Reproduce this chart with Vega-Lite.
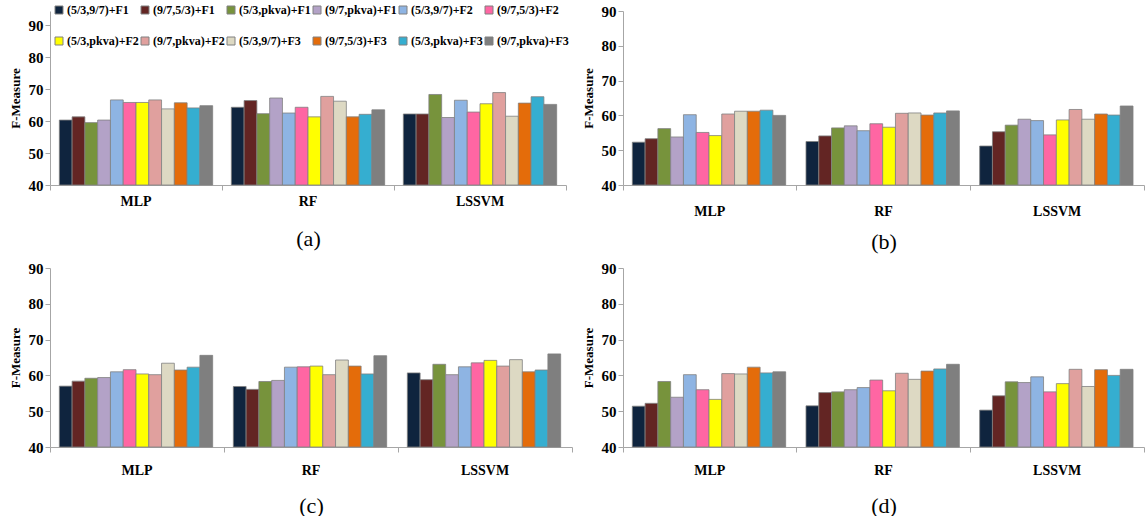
{
  "$schema": "https://vega.github.io/schema/vega-lite/v6.json",
  "padding": {"left": 9, "top": 4, "right": 0, "bottom": 0},
  "background": "white",
  "config": {
    "font": "Liberation Serif, Times New Roman, serif",
    "view": {"stroke": null},
    "axis": {"domainColor": "#a6a6a6", "tickColor": "#a6a6a6", "labelFont": "Liberation Serif, Times New Roman, serif", "titleFont": "Liberation Serif, Times New Roman, serif", "labelFontWeight": "bold", "labelColor": "#000000", "titleColor": "#000000", "grid": false, "tickSize": 5},
    "legend": {"orient": "none", "legendX": 3, "legendY": -7, "direction": "horizontal", "columns": 6, "symbolType": "square", "symbolSize": 64, "symbolStrokeWidth": 1, "symbolStrokeColor": "#808080", "labelFont": "Liberation Serif, Times New Roman, serif", "labelFontWeight": "bold", "labelFontSize": 12, "labelColor": "#000000", "rowPadding": 19, "columnPadding": 0, "labelOffset": 2}
  },
  "data": {"values": [
    {"panel": "a", "model": "MLP", "series": "(5/3,9/7)+F1", "value": 60.3},
    {"panel": "a", "model": "MLP", "series": "(9/7,5/3)+F1", "value": 61.3},
    {"panel": "a", "model": "MLP", "series": "(5/3,pkva)+F1", "value": 59.5},
    {"panel": "a", "model": "MLP", "series": "(9/7,pkva)+F1", "value": 60.3},
    {"panel": "a", "model": "MLP", "series": "(5/3,9/7)+F2", "value": 66.6},
    {"panel": "a", "model": "MLP", "series": "(9/7,5/3)+F2", "value": 65.8},
    {"panel": "a", "model": "MLP", "series": "(5/3,pkva)+F2", "value": 65.8},
    {"panel": "a", "model": "MLP", "series": "(9/7,pkva)+F2", "value": 66.6},
    {"panel": "a", "model": "MLP", "series": "(5/3,9/7)+F3", "value": 63.8},
    {"panel": "a", "model": "MLP", "series": "(9/7,5/3)+F3", "value": 65.7},
    {"panel": "a", "model": "MLP", "series": "(5/3,pkva)+F3", "value": 64.1},
    {"panel": "a", "model": "MLP", "series": "(9/7,pkva)+F3", "value": 64.8},
    {"panel": "a", "model": "RF", "series": "(5/3,9/7)+F1", "value": 64.3},
    {"panel": "a", "model": "RF", "series": "(9/7,5/3)+F1", "value": 66.4},
    {"panel": "a", "model": "RF", "series": "(5/3,pkva)+F1", "value": 62.3},
    {"panel": "a", "model": "RF", "series": "(9/7,pkva)+F1", "value": 67.2},
    {"panel": "a", "model": "RF", "series": "(5/3,9/7)+F2", "value": 62.5},
    {"panel": "a", "model": "RF", "series": "(9/7,5/3)+F2", "value": 64.3},
    {"panel": "a", "model": "RF", "series": "(5/3,pkva)+F2", "value": 61.3},
    {"panel": "a", "model": "RF", "series": "(9/7,pkva)+F2", "value": 67.7},
    {"panel": "a", "model": "RF", "series": "(5/3,9/7)+F3", "value": 66.2},
    {"panel": "a", "model": "RF", "series": "(9/7,5/3)+F3", "value": 61.3},
    {"panel": "a", "model": "RF", "series": "(5/3,pkva)+F3", "value": 62.1},
    {"panel": "a", "model": "RF", "series": "(9/7,pkva)+F3", "value": 63.5},
    {"panel": "a", "model": "LSSVM", "series": "(5/3,9/7)+F1", "value": 62.2},
    {"panel": "a", "model": "LSSVM", "series": "(9/7,5/3)+F1", "value": 62.2},
    {"panel": "a", "model": "LSSVM", "series": "(5/3,pkva)+F1", "value": 68.3},
    {"panel": "a", "model": "LSSVM", "series": "(9/7,pkva)+F1", "value": 61.1},
    {"panel": "a", "model": "LSSVM", "series": "(5/3,9/7)+F2", "value": 66.5},
    {"panel": "a", "model": "LSSVM", "series": "(9/7,5/3)+F2", "value": 62.8},
    {"panel": "a", "model": "LSSVM", "series": "(5/3,pkva)+F2", "value": 65.4},
    {"panel": "a", "model": "LSSVM", "series": "(9/7,pkva)+F2", "value": 68.9},
    {"panel": "a", "model": "LSSVM", "series": "(5/3,9/7)+F3", "value": 61.5},
    {"panel": "a", "model": "LSSVM", "series": "(9/7,5/3)+F3", "value": 65.6},
    {"panel": "a", "model": "LSSVM", "series": "(5/3,pkva)+F3", "value": 67.6},
    {"panel": "a", "model": "LSSVM", "series": "(9/7,pkva)+F3", "value": 65.2},
    {"panel": "b", "model": "MLP", "series": "(5/3,9/7)+F1", "value": 52.3},
    {"panel": "b", "model": "MLP", "series": "(9/7,5/3)+F1", "value": 53.3},
    {"panel": "b", "model": "MLP", "series": "(5/3,pkva)+F1", "value": 56.2},
    {"panel": "b", "model": "MLP", "series": "(9/7,pkva)+F1", "value": 53.8},
    {"panel": "b", "model": "MLP", "series": "(5/3,9/7)+F2", "value": 60.2},
    {"panel": "b", "model": "MLP", "series": "(9/7,5/3)+F2", "value": 55.1},
    {"panel": "b", "model": "MLP", "series": "(5/3,pkva)+F2", "value": 54.2},
    {"panel": "b", "model": "MLP", "series": "(9/7,pkva)+F2", "value": 60.4},
    {"panel": "b", "model": "MLP", "series": "(5/3,9/7)+F3", "value": 61.2},
    {"panel": "b", "model": "MLP", "series": "(9/7,5/3)+F3", "value": 61.2},
    {"panel": "b", "model": "MLP", "series": "(5/3,pkva)+F3", "value": 61.5},
    {"panel": "b", "model": "MLP", "series": "(9/7,pkva)+F3", "value": 60.0},
    {"panel": "b", "model": "RF", "series": "(5/3,9/7)+F1", "value": 52.5},
    {"panel": "b", "model": "RF", "series": "(9/7,5/3)+F1", "value": 54.1},
    {"panel": "b", "model": "RF", "series": "(5/3,pkva)+F1", "value": 56.4},
    {"panel": "b", "model": "RF", "series": "(9/7,pkva)+F1", "value": 57.0},
    {"panel": "b", "model": "RF", "series": "(5/3,9/7)+F2", "value": 55.6},
    {"panel": "b", "model": "RF", "series": "(9/7,5/3)+F2", "value": 57.6},
    {"panel": "b", "model": "RF", "series": "(5/3,pkva)+F2", "value": 56.6},
    {"panel": "b", "model": "RF", "series": "(9/7,pkva)+F2", "value": 60.6},
    {"panel": "b", "model": "RF", "series": "(5/3,9/7)+F3", "value": 60.7},
    {"panel": "b", "model": "RF", "series": "(9/7,5/3)+F3", "value": 60.1},
    {"panel": "b", "model": "RF", "series": "(5/3,pkva)+F3", "value": 60.7},
    {"panel": "b", "model": "RF", "series": "(9/7,pkva)+F3", "value": 61.3},
    {"panel": "b", "model": "LSSVM", "series": "(5/3,9/7)+F1", "value": 51.2},
    {"panel": "b", "model": "LSSVM", "series": "(9/7,5/3)+F1", "value": 55.3},
    {"panel": "b", "model": "LSSVM", "series": "(5/3,pkva)+F1", "value": 57.2},
    {"panel": "b", "model": "LSSVM", "series": "(9/7,pkva)+F1", "value": 58.9},
    {"panel": "b", "model": "LSSVM", "series": "(5/3,9/7)+F2", "value": 58.5},
    {"panel": "b", "model": "LSSVM", "series": "(9/7,5/3)+F2", "value": 54.4},
    {"panel": "b", "model": "LSSVM", "series": "(5/3,pkva)+F2", "value": 58.7},
    {"panel": "b", "model": "LSSVM", "series": "(9/7,pkva)+F2", "value": 61.7},
    {"panel": "b", "model": "LSSVM", "series": "(5/3,9/7)+F3", "value": 58.9},
    {"panel": "b", "model": "LSSVM", "series": "(9/7,5/3)+F3", "value": 60.4},
    {"panel": "b", "model": "LSSVM", "series": "(5/3,pkva)+F3", "value": 60.1},
    {"panel": "b", "model": "LSSVM", "series": "(9/7,pkva)+F3", "value": 62.7},
    {"panel": "c", "model": "MLP", "series": "(5/3,9/7)+F1", "value": 57.0},
    {"panel": "c", "model": "MLP", "series": "(9/7,5/3)+F1", "value": 58.4},
    {"panel": "c", "model": "MLP", "series": "(5/3,pkva)+F1", "value": 59.2},
    {"panel": "c", "model": "MLP", "series": "(9/7,pkva)+F1", "value": 59.4},
    {"panel": "c", "model": "MLP", "series": "(5/3,9/7)+F2", "value": 61.0},
    {"panel": "c", "model": "MLP", "series": "(9/7,5/3)+F2", "value": 61.6},
    {"panel": "c", "model": "MLP", "series": "(5/3,pkva)+F2", "value": 60.4},
    {"panel": "c", "model": "MLP", "series": "(9/7,pkva)+F2", "value": 60.2},
    {"panel": "c", "model": "MLP", "series": "(5/3,9/7)+F3", "value": 63.4},
    {"panel": "c", "model": "MLP", "series": "(9/7,5/3)+F3", "value": 61.5},
    {"panel": "c", "model": "MLP", "series": "(5/3,pkva)+F3", "value": 62.3},
    {"panel": "c", "model": "MLP", "series": "(9/7,pkva)+F3", "value": 65.6},
    {"panel": "c", "model": "RF", "series": "(5/3,9/7)+F1", "value": 56.9},
    {"panel": "c", "model": "RF", "series": "(9/7,5/3)+F1", "value": 56.1},
    {"panel": "c", "model": "RF", "series": "(5/3,pkva)+F1", "value": 58.3},
    {"panel": "c", "model": "RF", "series": "(9/7,pkva)+F1", "value": 58.6},
    {"panel": "c", "model": "RF", "series": "(5/3,9/7)+F2", "value": 62.3},
    {"panel": "c", "model": "RF", "series": "(9/7,5/3)+F2", "value": 62.4},
    {"panel": "c", "model": "RF", "series": "(5/3,pkva)+F2", "value": 62.6},
    {"panel": "c", "model": "RF", "series": "(9/7,pkva)+F2", "value": 60.2},
    {"panel": "c", "model": "RF", "series": "(5/3,9/7)+F3", "value": 64.3},
    {"panel": "c", "model": "RF", "series": "(9/7,5/3)+F3", "value": 62.6},
    {"panel": "c", "model": "RF", "series": "(5/3,pkva)+F3", "value": 60.4},
    {"panel": "c", "model": "RF", "series": "(9/7,pkva)+F3", "value": 65.5},
    {"panel": "c", "model": "LSSVM", "series": "(5/3,9/7)+F1", "value": 60.7},
    {"panel": "c", "model": "LSSVM", "series": "(9/7,5/3)+F1", "value": 58.8},
    {"panel": "c", "model": "LSSVM", "series": "(5/3,pkva)+F1", "value": 63.1},
    {"panel": "c", "model": "LSSVM", "series": "(9/7,pkva)+F1", "value": 60.2},
    {"panel": "c", "model": "LSSVM", "series": "(5/3,9/7)+F2", "value": 62.4},
    {"panel": "c", "model": "LSSVM", "series": "(9/7,5/3)+F2", "value": 63.5},
    {"panel": "c", "model": "LSSVM", "series": "(5/3,pkva)+F2", "value": 64.2},
    {"panel": "c", "model": "LSSVM", "series": "(9/7,pkva)+F2", "value": 62.6},
    {"panel": "c", "model": "LSSVM", "series": "(5/3,9/7)+F3", "value": 64.4},
    {"panel": "c", "model": "LSSVM", "series": "(9/7,5/3)+F3", "value": 61.0},
    {"panel": "c", "model": "LSSVM", "series": "(5/3,pkva)+F3", "value": 61.5},
    {"panel": "c", "model": "LSSVM", "series": "(9/7,pkva)+F3", "value": 66.0},
    {"panel": "d", "model": "MLP", "series": "(5/3,9/7)+F1", "value": 51.4},
    {"panel": "d", "model": "MLP", "series": "(9/7,5/3)+F1", "value": 52.2},
    {"panel": "d", "model": "MLP", "series": "(5/3,pkva)+F1", "value": 58.3},
    {"panel": "d", "model": "MLP", "series": "(9/7,pkva)+F1", "value": 53.9},
    {"panel": "d", "model": "MLP", "series": "(5/3,9/7)+F2", "value": 60.2},
    {"panel": "d", "model": "MLP", "series": "(9/7,5/3)+F2", "value": 56.0},
    {"panel": "d", "model": "MLP", "series": "(5/3,pkva)+F2", "value": 53.3},
    {"panel": "d", "model": "MLP", "series": "(9/7,pkva)+F2", "value": 60.5},
    {"panel": "d", "model": "MLP", "series": "(5/3,9/7)+F3", "value": 60.4},
    {"panel": "d", "model": "MLP", "series": "(9/7,5/3)+F3", "value": 62.3},
    {"panel": "d", "model": "MLP", "series": "(5/3,pkva)+F3", "value": 60.7},
    {"panel": "d", "model": "MLP", "series": "(9/7,pkva)+F3", "value": 61.0},
    {"panel": "d", "model": "RF", "series": "(5/3,9/7)+F1", "value": 51.5},
    {"panel": "d", "model": "RF", "series": "(9/7,5/3)+F1", "value": 55.2},
    {"panel": "d", "model": "RF", "series": "(5/3,pkva)+F1", "value": 55.4},
    {"panel": "d", "model": "RF", "series": "(9/7,pkva)+F1", "value": 56.0},
    {"panel": "d", "model": "RF", "series": "(5/3,9/7)+F2", "value": 56.6},
    {"panel": "d", "model": "RF", "series": "(9/7,5/3)+F2", "value": 58.7},
    {"panel": "d", "model": "RF", "series": "(5/3,pkva)+F2", "value": 55.7},
    {"panel": "d", "model": "RF", "series": "(9/7,pkva)+F2", "value": 60.6},
    {"panel": "d", "model": "RF", "series": "(5/3,9/7)+F3", "value": 58.9},
    {"panel": "d", "model": "RF", "series": "(9/7,5/3)+F3", "value": 61.2},
    {"panel": "d", "model": "RF", "series": "(5/3,pkva)+F3", "value": 61.8},
    {"panel": "d", "model": "RF", "series": "(9/7,pkva)+F3", "value": 63.1},
    {"panel": "d", "model": "LSSVM", "series": "(5/3,9/7)+F1", "value": 50.3},
    {"panel": "d", "model": "LSSVM", "series": "(9/7,5/3)+F1", "value": 54.3},
    {"panel": "d", "model": "LSSVM", "series": "(5/3,pkva)+F1", "value": 58.2},
    {"panel": "d", "model": "LSSVM", "series": "(9/7,pkva)+F1", "value": 58.0},
    {"panel": "d", "model": "LSSVM", "series": "(5/3,9/7)+F2", "value": 59.6},
    {"panel": "d", "model": "LSSVM", "series": "(9/7,5/3)+F2", "value": 55.4},
    {"panel": "d", "model": "LSSVM", "series": "(5/3,pkva)+F2", "value": 57.7},
    {"panel": "d", "model": "LSSVM", "series": "(9/7,pkva)+F2", "value": 61.7},
    {"panel": "d", "model": "LSSVM", "series": "(5/3,9/7)+F3", "value": 56.9},
    {"panel": "d", "model": "LSSVM", "series": "(9/7,5/3)+F3", "value": 61.6},
    {"panel": "d", "model": "LSSVM", "series": "(5/3,pkva)+F3", "value": 60.0},
    {"panel": "d", "model": "LSSVM", "series": "(9/7,pkva)+F3", "value": 61.7}
  ]},
  "spacing": 9,
  "vconcat": [
    {
      "spacing": 15,
      "hconcat": [
        {
          "width": 516, "height": 174,
          "transform": [{"filter": "datum.panel == 'a'"}],
          "mark": {"type": "bar", "stroke": "#808080", "strokeWidth": 0.8},
          "encoding": {
            "x": {"field": "model", "type": "nominal", "sort": ["MLP", "RF", "LSSVM"], "scale": {"paddingInner": 0, "paddingOuter": 0},
                  "axis": {"title": "(a)", "labelAngle": 0, "bandPosition": 1, "tickExtra": true, "labelPadding": 4, "labelFontSize": 14, "titleFontWeight": "normal", "titleFontSize": 22, "titlePadding": 20}},
            "xOffset": {"field": "series", "type": "nominal", "sort": ["(5/3,9/7)+F1", "(9/7,5/3)+F1", "(5/3,pkva)+F1", "(9/7,pkva)+F1", "(5/3,9/7)+F2", "(9/7,5/3)+F2", "(5/3,pkva)+F2", "(9/7,pkva)+F2", "(5/3,9/7)+F3", "(9/7,5/3)+F3", "(5/3,pkva)+F3", "(9/7,pkva)+F3"], "scale": {"paddingInner": 0, "paddingOuter": 0.73}},
            "y": {"field": "value", "type": "quantitative", "scale": {"domain": [40, 94.4], "zero": false, "nice": false},
                  "axis": {"title": "F-Measure", "values": [40, 50, 60, 70, 80, 90], "labelOverlap": false, "titleFontSize": 13, "titleFontWeight": "bold", "labelFontSize": 15, "titlePadding": 6}},
            "y2": {"datum": 40},
            "color": {"field": "series", "type": "nominal", "title": null,
                      "sort": ["(5/3,9/7)+F1", "(9/7,5/3)+F1", "(5/3,pkva)+F1", "(9/7,pkva)+F1", "(5/3,9/7)+F2", "(9/7,5/3)+F2", "(5/3,pkva)+F2", "(9/7,pkva)+F2", "(5/3,9/7)+F3", "(9/7,5/3)+F3", "(5/3,pkva)+F3", "(9/7,pkva)+F3"],
                      "scale": {"domain": ["(5/3,9/7)+F1", "(9/7,5/3)+F1", "(5/3,pkva)+F1", "(9/7,pkva)+F1", "(5/3,9/7)+F2", "(9/7,5/3)+F2", "(5/3,pkva)+F2", "(9/7,pkva)+F2", "(5/3,9/7)+F3", "(9/7,5/3)+F3", "(5/3,pkva)+F3", "(9/7,pkva)+F3"],
                                "range": ["#0F243E", "#632523", "#77933C", "#B3A2C7", "#8EB4E3", "#FF66A3", "#FFFF00", "#E0A09E", "#DDD9C3", "#E46C0A", "#35AED0", "#7F7F7F"]}}
          }
        },
        {
          "width": 521, "height": 174,
          "transform": [{"filter": "datum.panel == 'b'"}],
          "mark": {"type": "bar", "stroke": "#808080", "strokeWidth": 0.8},
          "encoding": {
            "x": {"field": "model", "type": "nominal", "sort": ["MLP", "RF", "LSSVM"], "scale": {"paddingInner": 0, "paddingOuter": 0},
                  "axis": {"title": "(b)", "labelAngle": 0, "bandPosition": 1, "tickExtra": true, "labelPadding": 14, "labelFontSize": 14, "titleFontWeight": "normal", "titleFontSize": 22, "titlePadding": 13}},
            "xOffset": {"field": "series", "type": "nominal", "sort": ["(5/3,9/7)+F1", "(9/7,5/3)+F1", "(5/3,pkva)+F1", "(9/7,pkva)+F1", "(5/3,9/7)+F2", "(9/7,5/3)+F2", "(5/3,pkva)+F2", "(9/7,pkva)+F2", "(5/3,9/7)+F3", "(9/7,5/3)+F3", "(5/3,pkva)+F3", "(9/7,pkva)+F3"], "scale": {"paddingInner": 0, "paddingOuter": 0.75}},
            "y": {"field": "value", "type": "quantitative", "scale": {"domain": [40, 90], "zero": false, "nice": false},
                  "axis": {"title": "F-Measure", "values": [40, 50, 60, 70, 80, 90], "titleFontSize": 13, "titleFontWeight": "bold", "labelFontSize": 15, "titlePadding": 6}},
            "y2": {"datum": 40},
            "color": {"field": "series", "type": "nominal", "title": null,
                      "sort": ["(5/3,9/7)+F1", "(9/7,5/3)+F1", "(5/3,pkva)+F1", "(9/7,pkva)+F1", "(5/3,9/7)+F2", "(9/7,5/3)+F2", "(5/3,pkva)+F2", "(9/7,pkva)+F2", "(5/3,9/7)+F3", "(9/7,5/3)+F3", "(5/3,pkva)+F3", "(9/7,pkva)+F3"]}
          }
        }
      ]
    },
    {
      "spacing": 9,
      "hconcat": [
        {
          "width": 522, "height": 179,
          "transform": [{"filter": "datum.panel == 'c'"}],
          "mark": {"type": "bar", "stroke": "#808080", "strokeWidth": 0.8},
          "encoding": {
            "x": {"field": "model", "type": "nominal", "sort": ["MLP", "RF", "LSSVM"], "scale": {"paddingInner": 0, "paddingOuter": 0},
                  "axis": {"title": "(c)", "labelAngle": 0, "bandPosition": 1, "tickExtra": true, "labelPadding": 11, "labelFontSize": 14, "titleFontWeight": "normal", "titleFontSize": 22, "titlePadding": 18}},
            "xOffset": {"field": "series", "type": "nominal", "sort": ["(5/3,9/7)+F1", "(9/7,5/3)+F1", "(5/3,pkva)+F1", "(9/7,pkva)+F1", "(5/3,9/7)+F2", "(9/7,5/3)+F2", "(5/3,pkva)+F2", "(9/7,pkva)+F2", "(5/3,9/7)+F3", "(9/7,5/3)+F3", "(5/3,pkva)+F3", "(9/7,pkva)+F3"], "scale": {"paddingInner": 0, "paddingOuter": 0.75}},
            "y": {"field": "value", "type": "quantitative", "scale": {"domain": [40, 90], "zero": false, "nice": false},
                  "axis": {"title": "F-Measure", "values": [40, 50, 60, 70, 80, 90], "titleFontSize": 13, "titleFontWeight": "bold", "labelFontSize": 15, "titlePadding": 6}},
            "y2": {"datum": 40},
            "color": {"field": "series", "type": "nominal", "title": null,
                      "sort": ["(5/3,9/7)+F1", "(9/7,5/3)+F1", "(5/3,pkva)+F1", "(9/7,pkva)+F1", "(5/3,9/7)+F2", "(9/7,5/3)+F2", "(5/3,pkva)+F2", "(9/7,pkva)+F2", "(5/3,9/7)+F3", "(9/7,5/3)+F3", "(5/3,pkva)+F3", "(9/7,pkva)+F3"]}
          }
        },
        {
          "width": 521, "height": 179,
          "transform": [{"filter": "datum.panel == 'd'"}],
          "mark": {"type": "bar", "stroke": "#808080", "strokeWidth": 0.8},
          "encoding": {
            "x": {"field": "model", "type": "nominal", "sort": ["MLP", "RF", "LSSVM"], "scale": {"paddingInner": 0, "paddingOuter": 0},
                  "axis": {"title": "(d)", "labelAngle": 0, "bandPosition": 1, "tickExtra": true, "labelPadding": 11, "labelFontSize": 14, "titleFontWeight": "normal", "titleFontSize": 22, "titlePadding": 18}},
            "xOffset": {"field": "series", "type": "nominal", "sort": ["(5/3,9/7)+F1", "(9/7,5/3)+F1", "(5/3,pkva)+F1", "(9/7,pkva)+F1", "(5/3,9/7)+F2", "(9/7,5/3)+F2", "(5/3,pkva)+F2", "(9/7,pkva)+F2", "(5/3,9/7)+F3", "(9/7,5/3)+F3", "(5/3,pkva)+F3", "(9/7,pkva)+F3"], "scale": {"paddingInner": 0, "paddingOuter": 0.75}},
            "y": {"field": "value", "type": "quantitative", "scale": {"domain": [40, 90], "zero": false, "nice": false},
                  "axis": {"title": "F-Measure", "values": [40, 50, 60, 70, 80, 90], "titleFontSize": 13, "titleFontWeight": "bold", "labelFontSize": 15, "titlePadding": 6}},
            "y2": {"datum": 40},
            "color": {"field": "series", "type": "nominal", "title": null,
                      "sort": ["(5/3,9/7)+F1", "(9/7,5/3)+F1", "(5/3,pkva)+F1", "(9/7,pkva)+F1", "(5/3,9/7)+F2", "(9/7,5/3)+F2", "(5/3,pkva)+F2", "(9/7,pkva)+F2", "(5/3,9/7)+F3", "(9/7,5/3)+F3", "(5/3,pkva)+F3", "(9/7,pkva)+F3"]}
          }
        }
      ]
    }
  ]
}
